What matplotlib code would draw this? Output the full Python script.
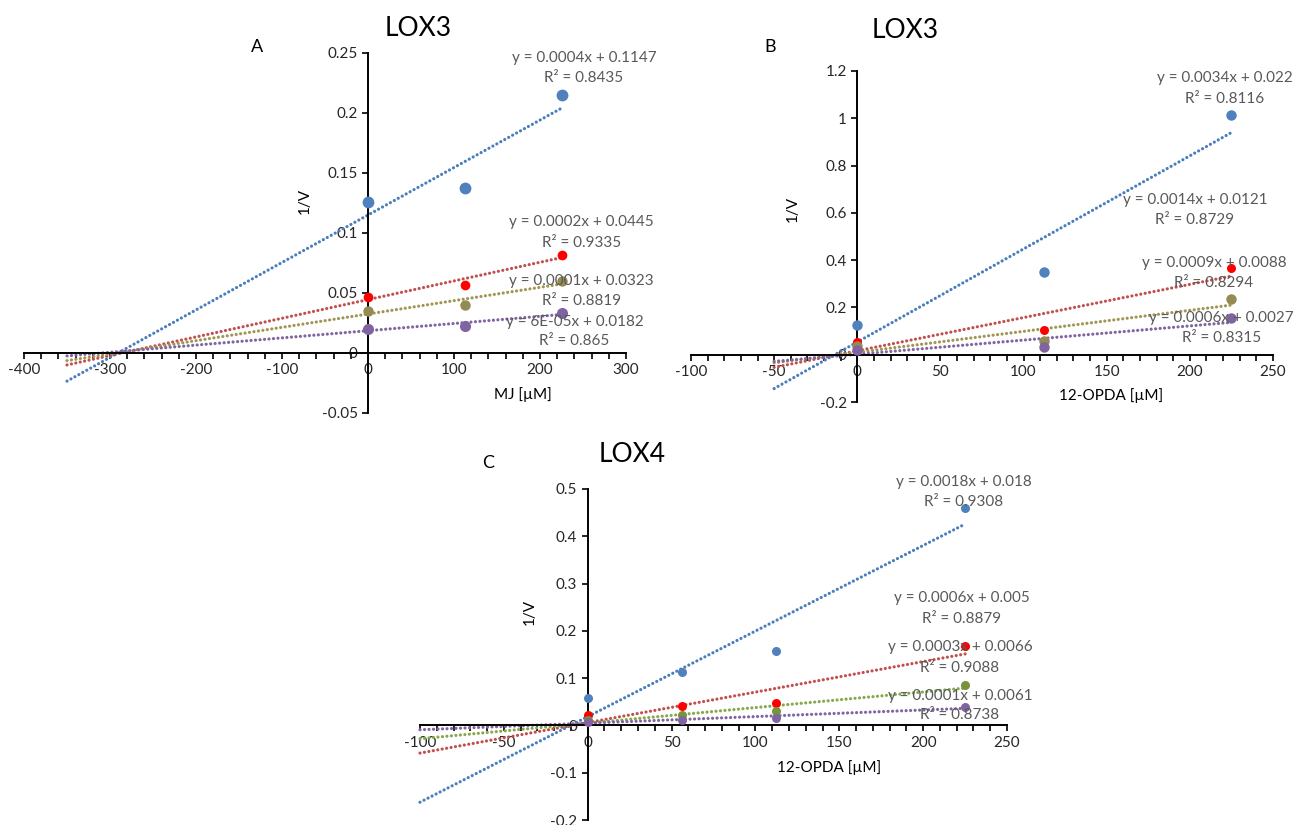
import numpy as np
import matplotlib
matplotlib.use('Agg')
import matplotlib.pyplot as plt
from matplotlib.ticker import MultipleLocator

plt.rcParams['font.family'] = ['Lato', 'DejaVu Sans']

W, H = 1306, 825

# --- panel A : LOX3, MJ ---
a_x = [0, 112.5, 225]
a_blue = [0.126, 0.1375, 0.215]
a_red = [0.047, 0.057, 0.082]
a_olive = [0.035, 0.040, 0.060]
a_purple = [0.020, 0.0225, 0.0335]
a_eq = [("y = 0.0004x + 0.1147", "R² = 0.8435"),
        ("y = 0.0002x + 0.0445", "R² = 0.9335"),
        ("y = 0.0001x + 0.0323", "R² = 0.8819"),
        ("y = 6E-05x + 0.0182", "R² = 0.865")]

# --- panel B : LOX3, 12-OPDA ---
b_x = [0, 112.5, 225]
b_blue = [0.127, 0.35, 1.013]
b_red = [0.052, 0.104, 0.368]
b_olive = [0.035, 0.06, 0.235]
b_purple = [0.02, 0.033, 0.155]
b_eq = [("y = 0.0034x + 0.022", "R² = 0.8116"),
        ("y = 0.0014x + 0.0121", "R² = 0.8729"),
        ("y = 0.0009x + 0.0088", "R² = 0.8294"),
        ("y = 0.0006x + 0.0027", "R² = 0.8315")]

# --- panel C : LOX4, 12-OPDA ---
c_x = [0, 56.25, 112.5, 225]
c_blue = [0.057, 0.112, 0.158, 0.46]
c_red = [0.022, 0.042, 0.047, 0.167]
c_green = [0.012, 0.021, 0.031, 0.085]
c_purple = [0.008, 0.012, 0.015, 0.039]
c_eq = [("y = 0.0018x + 0.018", "R² = 0.9308"),
        ("y = 0.0006x + 0.005", "R² = 0.8879"),
        ("y = 0.0003x + 0.0066", "R² = 0.9088"),
        ("y = 0.0001x + 0.0061", "R² = 0.8738")]

BLUE = ('#4F81BD', '#4A7EBB')
RED = ('#FF0000', '#C0504D')
OLIVE = ('#948A54', '#A09652')
GREEN = ('#77933C', '#86A94A')
PURPLE = ('#8064A2', '#8064A2')
GREY = '#595959'


def px_rect(x0, y_top, x1, y_bot):
    return [x0 / W, 1 - y_bot / H, (x1 - x0) / W, (y_bot - y_top) / H]


def fig_txt(fig, x, y, s, **kw):
    fig.text(x / W, 1 - y / H, s, ha='center', va='center', **kw)


def setup(ax, xlim, ylim, xmaj, xmin, ymaj):
    ax.set_xlim(*xlim)
    ax.set_ylim(*ylim)
    for side in ['top', 'right']:
        ax.spines[side].set_visible(False)
    ax.spines['left'].set_position(('data', 0))
    ax.spines['bottom'].set_position(('data', 0))
    for side in ['left', 'bottom']:
        ax.spines[side].set_linewidth(1.4)
        ax.spines[side].set_color('black')
    ax.xaxis.set_major_locator(MultipleLocator(xmaj))
    ax.xaxis.set_minor_locator(MultipleLocator(xmin))
    ax.yaxis.set_major_locator(MultipleLocator(ymaj))
    ax.tick_params(axis='both', which='major', direction='out', length=4,
                   width=1.2, labelsize=11, colors='black', labelcolor='#262626')
    ax.tick_params(axis='x', which='minor', direction='out', length=4, width=1.2)
    ax.patch.set_alpha(0)
    ax.yaxis.set_major_formatter(plt.FuncFormatter(lambda v, p: '%g' % round(v, 3)))
    ax.xaxis.set_major_formatter(plt.FuncFormatter(lambda v, p: '%g' % round(v, 3)))


def series(ax, x, y, colors, x_start, ms):
    # excel style linear trendline, forecast backwards to x_start
    k, b = np.polyfit(x, y, 1)
    xs = np.array([x_start, x[-1]])
    ax.plot(xs, k * xs + b, color=colors[1], lw=2.3, dashes=(0.01, 1.4),
            dash_capstyle='round', zorder=2, clip_on=False)
    ax.plot(x, y, 'o', color=colors[0], ms=ms, mec='none', zorder=3, clip_on=False)


def eq_labels(ax, eqs, pos):
    for (e, r), (x, y1, y2) in zip(eqs, pos):
        ax.text(x, y1, e, ha='center', va='center', fontsize=11, color=GREY, zorder=4)
        ax.text(x, y2, r, ha='center', va='center', fontsize=11, color=GREY, zorder=4)


fig = plt.figure(figsize=(W / 100, H / 100), dpi=100)

# A
axA = fig.add_axes(px_rect(24, 53, 626, 413))
setup(axA, (-400, 300), (-0.05, 0.25), 100, 20, 0.05)
series(axA, a_x, a_blue, BLUE, -350, 8.5)
series(axA, a_x, a_red, RED, -350, 7)
series(axA, a_x, a_olive, OLIVE, -350, 7.5)
series(axA, a_x, a_purple, PURPLE, -350, 8)
eq_labels(axA, a_eq, [(251, 0.246, 0.229), (248, 0.109, 0.092),
                      (248, 0.0597, 0.0436), (240, 0.026, 0.0097)])
axA.text(-73, 0.127, '1/V', rotation=90, ha='center', va='center', fontsize=11)
axA.text(180, -0.035, 'MJ [µM]', ha='center', va='center', fontsize=11)
fig_txt(fig, 418, 29, 'LOX3', fontsize=19)
fig_txt(fig, 257, 47, 'A', fontsize=13)

# B
axB = fig.add_axes(px_rect(691, 71, 1273, 402))
setup(axB, (-100, 250), (-0.2, 1.2), 50, 10, 0.2)
series(axB, b_x, b_blue, BLUE, -50, 7.5)
series(axB, b_x, b_red, RED, -50, 6.5)
series(axB, b_x, b_olive, OLIVE, -50, 7.5)
series(axB, b_x, b_purple, PURPLE, -50, 7.5)
eq_labels(axB, b_eq, [(221, 1.169, 1.083), (203, 0.653, 0.57),
                      (214.5, 0.386, 0.302), (219, 0.154, 0.070)])
axB.text(-39, 0.615, '1/V', rotation=90, ha='center', va='center', fontsize=11)
axB.text(152.5, -0.171, '12-OPDA [µM]', ha='center', va='center', fontsize=11)
fig_txt(fig, 905, 30, 'LOX3', fontsize=19)
fig_txt(fig, 770, 47, 'B', fontsize=13)

# C
axC = fig.add_axes(px_rect(420, 489, 1007, 820))
setup(axC, (-100, 250), (-0.2, 0.5), 50, 10, 0.1)
series(axC, c_x, c_blue, BLUE, -100, 6.5)
series(axC, c_x, c_red, RED, -100, 6.5)
series(axC, c_x, c_green, GREEN, -100, 6.5)
series(axC, c_x, c_purple, PURPLE, -100, 6.5)
eq_labels(axC, c_eq, [(224, 0.515, 0.473), (223, 0.270, 0.226),
                      (222, 0.1655, 0.122), (222, 0.063, 0.021)])
axC.text(-34.5, 0.241, '1/V', rotation=90, ha='center', va='center', fontsize=11)
axC.text(144, -0.09, '12-OPDA [µM]', ha='center', va='center', fontsize=11)
fig_txt(fig, 632, 455, 'LOX4', fontsize=19)
fig_txt(fig, 488, 463, 'C', fontsize=13)

fig.savefig('out.png', dpi=100)
